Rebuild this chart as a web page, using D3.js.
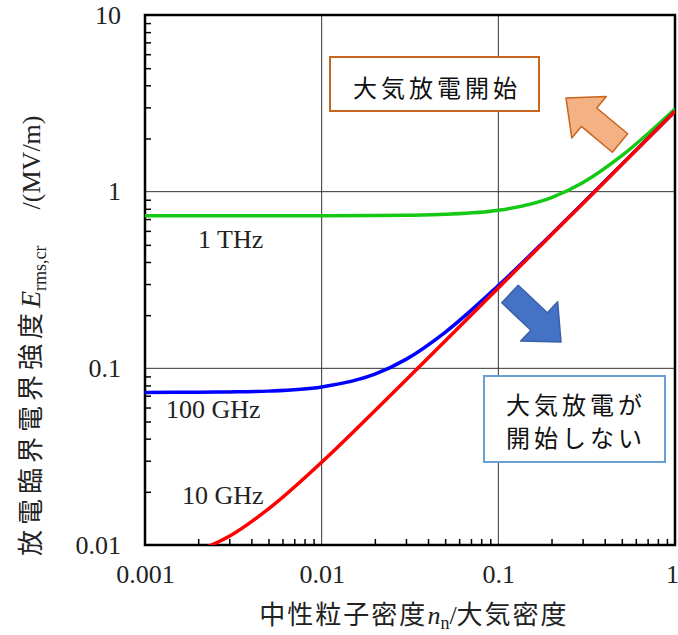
<!DOCTYPE html>
<html>
<head>
<meta charset="utf-8">
<script src="https://cdn.jsdelivr.net/npm/d3@7"></script>
<style>
  body { margin: 0; background: #fff; }
  svg { display: block; }
</style>
</head>
<body>
<svg id="chart" width="678" height="635"></svg>
<script>
// neutral density ratio (x) and breakdown field in MV/m (y)
var density = [0.001, 0.002, 0.003, 0.005, 0.01, 0.02, 0.03, 0.05, 0.1, 0.2, 0.3, 0.5, 1];
var field1THz   = [0.73, 0.73, 0.73, 0.7301, 0.7306, 0.7322, 0.735, 0.744, 0.784, 0.926, 1.124, 1.60, 2.94];
var field100GHz = [0.0731, 0.0732, 0.0735, 0.0743, 0.0784, 0.0926, 0.1124, 0.160, 0.294, 0.575, 0.858, 1.427, 2.85];
var field10GHz  = [0.0078, 0.0093, 0.0112, 0.016, 0.0294, 0.0575, 0.0858, 0.1427, 0.285, 0.57, 0.855, 1.425, 2.85];

var xMajor = [0.001, 0.01, 0.1, 1];
var yMajor = [0.01, 0.1, 1, 10];
var xLabels = ["0.001", "0.01", "0.1", "1"];
var yLabels = ["0.01", "0.1", "1", "10"];

var series = [
  {name: "1 THz", values: field1THz, color: "#14c814", lx: 198, ly: 248},
  {name: "100 GHz", values: field100GHz, color: "#0000ff", lx: 166, ly: 418},
  {name: "10 GHz", values: field10GHz, color: "#ff0000", lx: 182, ly: 504}
];

var serif = "'Liberation Serif', 'Times New Roman', serif";
var jp = "'Noto Sans CJK JP', sans-serif";

var plotL = 145, plotR = 675, plotT = 15, plotB = 545;

var svg = d3.select("#chart");

var x = d3.scaleLog().domain([0.001, 1]).range([plotL, plotR]);
var y = d3.scaleLog().domain([0.01, 10]).range([plotB, plotT]);

function minors(lo, hi) {
  var out = [];
  for (var d = lo; d < hi * 0.99; d *= 10) {
    for (var k = 2; k <= 9; k++) out.push(d * k);
  }
  return out;
}

// grid lines at the decades
svg.append("g").selectAll("line")
  .data(xMajor.slice(1, -1))
  .join("line")
  .attr("x1", d => x(d)).attr("x2", d => x(d))
  .attr("y1", plotT).attr("y2", plotB)
  .attr("stroke", "#333").attr("stroke-width", 1);

svg.append("g").selectAll("line")
  .data(yMajor.slice(1, -1))
  .join("line")
  .attr("x1", plotL).attr("x2", plotR)
  .attr("y1", d => y(d)).attr("y2", d => y(d))
  .attr("stroke", "#333").attr("stroke-width", 1);

// minor ticks, pointing inside
var xMinor = svg.append("g")
  .attr("transform", "translate(0," + plotB + ")")
  .call(d3.axisBottom(x).tickValues(minors(0.001, 1)).tickSize(-6).tickFormat(""));
xMinor.select(".domain").remove();
xMinor.selectAll("line").attr("stroke", "#000").attr("stroke-width", 1.5);

var yMinor = svg.append("g")
  .attr("transform", "translate(" + plotL + ",0)")
  .call(d3.axisLeft(y).tickValues(minors(0.01, 10)).tickSize(-6).tickFormat(""));
yMinor.select(".domain").remove();
yMinor.selectAll("line").attr("stroke", "#000").attr("stroke-width", 1.5);

// tick labels
var xAxis = svg.append("g")
  .attr("transform", "translate(0," + plotB + ")")
  .call(d3.axisBottom(x).tickValues(xMajor).tickSize(0).tickPadding(20)
    .tickFormat((d, i) => xLabels[i]));
xAxis.select(".domain").remove();
xAxis.selectAll("text").attr("font-family", serif).attr("font-size", 26).attr("fill", "#222");
// the last label sits on the page edge
xAxis.selectAll("text").filter(d => d === 1).attr("dx", -3);

var yAxis = svg.append("g")
  .attr("transform", "translate(" + plotL + ",0)")
  .call(d3.axisLeft(y).tickValues(yMajor).tickSize(0).tickPadding(24)
    .tickFormat((d, i) => yLabels[i]));
yAxis.select(".domain").remove();
yAxis.selectAll("text").attr("font-family", serif).attr("font-size", 26).attr("fill", "#222");

// frame
svg.append("rect")
  .attr("x", plotL).attr("y", plotT)
  .attr("width", plotR - plotL).attr("height", plotB - plotT)
  .attr("fill", "none").attr("stroke", "#000").attr("stroke-width", 2.5);

// curves
svg.append("clipPath").attr("id", "plotClip")
  .append("rect").attr("x", plotL).attr("y", plotT)
  .attr("width", plotR - plotL).attr("height", plotB - plotT);

var line = d3.line()
  .x(d => x(d[0]))
  .y(d => y(d[1]))
  .curve(d3.curveMonotoneX);

svg.append("g").attr("clip-path", "url(#plotClip)")
  .selectAll("path")
  .data(series)
  .join("path")
  .attr("d", s => line(density.map((n, i) => [n, s.values[i]])))
  .attr("fill", "none")
  .attr("stroke", s => s.color)
  .attr("stroke-width", 3.5);

svg.append("g").selectAll("text")
  .data(series)
  .join("text")
  .attr("x", s => s.lx).attr("y", s => s.ly)
  .attr("font-family", serif).attr("font-size", 26).attr("fill", "#222")
  .text(s => s.name);

// arrows
function arrow(tx, ty, hx, hy, fill, stroke) {
  var len = Math.hypot(hx - tx, hy - ty);
  var ang = Math.atan2(hy - ty, hx - tx) * 180 / Math.PI;
  var pts = [[0, -12], [len - 30, -12], [len - 30, -27], [len, 0], [len - 30, 27], [len - 30, 12], [0, 12]];
  svg.append("polygon")
    .attr("points", pts.map(p => p.join(",")).join(" "))
    .attr("transform", "translate(" + tx + "," + ty + ") rotate(" + ang + ")")
    .attr("fill", fill).attr("stroke", stroke).attr("stroke-width", 1.5)
    .attr("stroke-linejoin", "round");
}
arrow(620, 143, 566, 98, "#f4b183", "#c8651e");
arrow(510, 294, 561, 342, "#4472c4", "#3a62a8");

// annotation boxes
svg.append("rect")
  .attr("x", 330).attr("y", 57).attr("width", 209).attr("height", 54)
  .attr("fill", "#fff").attr("stroke", "#c8651e").attr("stroke-width", 2);
svg.append("text")
  .attr("x", 437).attr("y", 97)
  .attr("text-anchor", "middle")
  .attr("font-family", jp).attr("font-size", 24).attr("letter-spacing", 4)
  .attr("fill", "#111")
  .text("大気放電開始");

svg.append("rect")
  .attr("x", 484).attr("y", 376).attr("width", 181).attr("height", 86)
  .attr("fill", "#fff").attr("stroke", "#6a9fd6").attr("stroke-width", 2);
var box2 = svg.append("text")
  .attr("font-family", jp).attr("font-size", 24).attr("letter-spacing", 4)
  .attr("fill", "#111").attr("text-anchor", "middle");
box2.append("tspan").attr("x", 576).attr("y", 414).text("大気放電が");
box2.append("tspan").attr("x", 576).attr("y", 447).text("開始しない");

// axis titles
var xt = svg.append("text")
  .attr("x", 414).attr("y", 624)
  .attr("text-anchor", "middle")
  .attr("font-family", jp).attr("font-size", 26).attr("fill", "#222");
xt.append("tspan").attr("letter-spacing", 2).text("中性粒子密度");
xt.append("tspan").attr("font-family", serif).attr("font-style", "italic").text("n");
xt.append("tspan").attr("font-family", serif).attr("font-size", 18).attr("dy", 5).text("n");
xt.append("tspan").attr("font-family", serif).attr("dy", -5).text("/");
xt.append("tspan").attr("letter-spacing", 2).text("大気密度");

var yt = svg.append("text")
  .attr("transform", "translate(40,556) rotate(-90)")
  .attr("font-family", jp).attr("font-size", 26).attr("fill", "#222");
yt.append("tspan").attr("letter-spacing", 5).text("放電臨界電界強度");
yt.append("tspan").attr("font-family", serif).attr("font-style", "italic").attr("font-size", 28).text("E");
yt.append("tspan").attr("font-family", serif).attr("font-size", 18).attr("dy", 6).text("rms,cr");
yt.append("tspan").attr("font-family", serif).attr("dy", -6).attr("dx", 36).text("/(MV/m)");
</script>
</body>
</html>
